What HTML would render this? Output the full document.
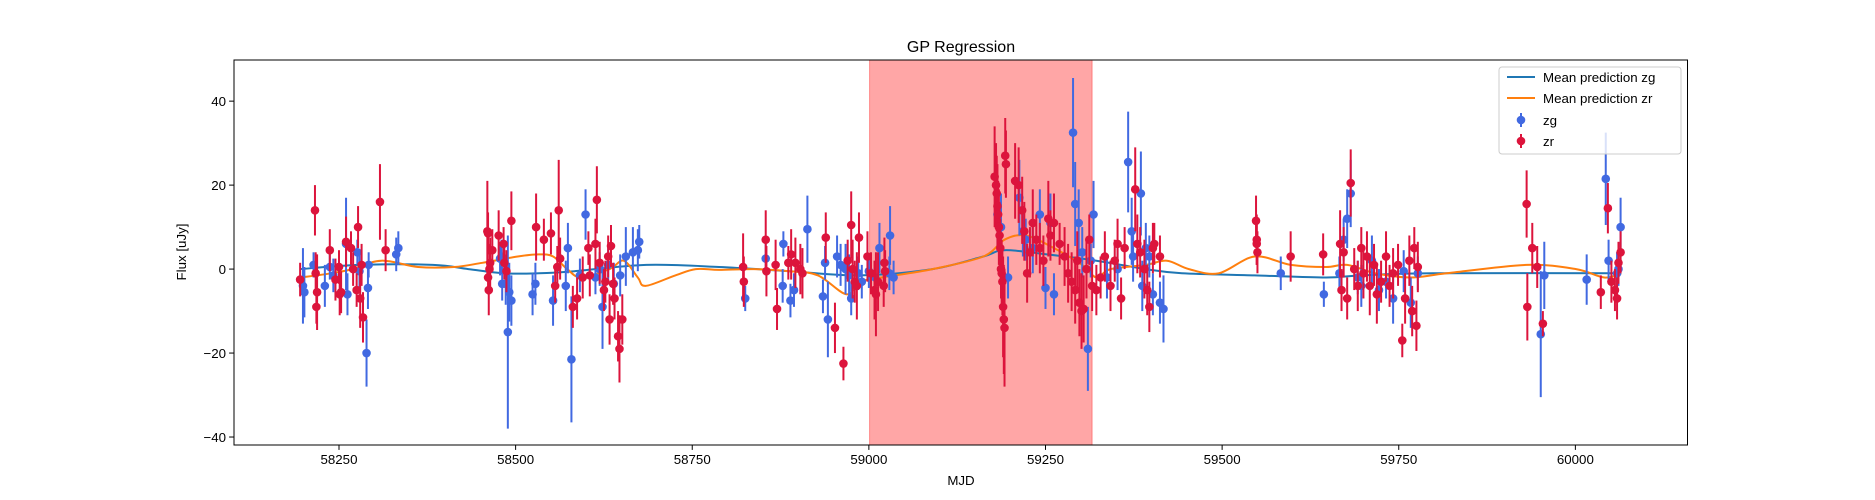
<!DOCTYPE html>
<html><head><meta charset="utf-8">
<style>
html,body{margin:0;padding:0;background:#fff;}
svg{display:block;font-family:"Liberation Sans","DejaVu Sans",sans-serif;}
</style></head>
<body>
<svg id="chart" width="1875" height="500" viewBox="0 0 1875 500" style="position:absolute;left:0;top:0"></svg>
<script>
// ---- data ----
const xTicks = [58250, 58500, 58750, 59000, 59250, 59500, 59750, 60000];
const yTicks = [-40, -20, 0, 20, 40];
const spanRange = [59001, 59316];
const zgCurveMjd = [58195,58279,58383,58433,58483,58533,58583,58685,58788,58888,58988,59090,59162,59192,59252,59322,59392,59443,59546,59647,59697,59798,60065];
const zgCurveFlux = [0,1,1,0,-1,-1,-0.5,1,0.5,-0.5,-1.5,0,3,4.5,3.5,2,0,-1,-1.5,-2,-1.5,-1,-1];
const zrCurveMjd = [58195,58239,58269,58310,58362,58413,58453,58503,58533,58553,58573,58593,58633,58653,58673,58684,58726,58755,58788,58837,58888,58928,58968,58988,59018,59090,59162,59192,59222,59262,59302,59322,59342,59392,59422,59453,59495,59546,59597,59647,59677,59717,59767,59818,59931,60001,60041,60065];
const zrCurveFlux = [-2,-1,0,2,0.5,0.5,1.5,3,3.5,3,0,-2,0,2,-2,-4,-1.5,0,-0.2,0,-0.5,-1.5,-6,-3,-2,0,3,7,8,5,1,-2,0,1,2,0,-1,3,1,0.5,1,-1,-2,-1,1,0,-2,-1];
// [mjd, flux, err]
const zgObs = [[58199,-4,9],[58201,-5.5,6],[58214,1,3],[58230,-4,5],[58237,0.5,3],[58242,-1.5,4],[58260,6,11],[58262,-6,5],[58276,4,3],[58279,-0.5,4],[58289,-20,8],[58291,-4.5,5],[58292,1,3],[58331,3.5,4],[58334,5,4],
[58478,2.5,4],[58480,3,4],[58481,-3.5,4],[58486,-3.5,5],[58489,-15,23],[58491,-5.5,7],[58494,-7.5,6],[58524,-6,5],[58528,-3.5,5],[58553,-7.5,6],[58571,-4,6],[58574,5,6],[58579,-21.5,15],[58591,-1.5,4],[58599,13,6],[58613,-2,4],[58619,0,4],[58623,-9,10],[58631,1,4],[58639,-3.5,5],[58648,-1.5,5],[58656,3,7],[58666,4,6],[58673,4.5,5],[58675,6.5,4],
[58825,-7,3],[58854,2.5,4],[58878,-4,4],[58879,6,3],[58889,-7.5,4],[58894,-5,4],[58913,9.5,8],[58935,-6.5,4],[58938,1.5,4],[58942,-12,9],[58955,3,5],[58960,1,5],[58967,0,6],[58972,-1.5,5],[58975,-7,4],[58985,-1,4],[58990,-3,4],[59000,-0.5,4],[59009,-2,4],[59015,5,6],[59030,8,7],[59029,-1,4],[59035,-2,4],
[59182,13,8],[59187,10,8],[59197,-2,5],[59213,17,9],[59218,9,6],[59222,7,5],[59232,5,6],[59242,13,6],[59250,-4.5,5],[59257,11,7],[59262,-6,5],[59289,32.5,13],[59292,15.5,10],[59297,11,8],[59302,4,6],[59310,-19,10],[59314,2,4],[59318,13,8],
[59337,-2,5],[59352,0,5],[59367,25.5,12],[59372,9,8],[59374,3,6],[59385,18,10],[59387,-4,6],[59392,5,6],[59402,-6,5],[59412,-8,5],[59417,-9.5,8],[59397,3,5],
[59583,-1,4],[59644,-6,3],[59666,-1,4],[59672,7,5],[59677,12,7],[59682,18,8],[59692,-2,4],[59697,-4,5],[59712,2,6],[59722,-5,5],[59732,-3,4],[59742,-7,6],[59757,-0.5,5],[59767,-8,6],[59777,-1,4],[59951,-15.5,15],[59956,-1.5,8],[60016,-2.5,6],[60043,21.5,11],[60047,2,5],[60059,-1,5],[60061,0,4],[60064,10,7]];
const zrObs = [[58195,-2.5,4],[58216,14,6],[58217,-1,5],[58218,-9,4],[58219,-5.5,9],[58237,4.5,5],[58245,-2.5,5],[58250,0.5,4],[58251,-6,5],[58253,-5.5,5],[58260,6.5,6],[58267,5,4],[58270,0,4],[58275,-5,4],[58277,10,5],[58280,-7,7],[58282,1,5],[58284,-11.5,6],[58308,16,9],[58316,4.5,5],
[58460,9,12],[58461,8.5,5],[58461,-2,4],[58462,-5,6],[58463,0,6],[58464,1.5,6],[58467,4.5,5],[58476,8,6],[58483,6,4],[58484,1.5,4],[58487,-0.5,5],[58494,11.5,7],[58529,10,8],[58540,7,5],[58550,8.5,5],[58556,-4,4],[58559,0.5,5],[58561,14,12],[58563,2.5,5],[58581,-9,5],[58587,-7,5],[58595,-2,5],[58603,5,4],[58605,-1.5,5],[58613,6,6],[58615,16.5,8],[58619,1.5,5],[58625,-5,5],[58627,-3,5],[58631,3,5],[58633,-12,6],[58635,5.5,5],[58638,-3.5,5],[58640,-7,5],[58645,-16,6],[58647,-19,8],[58651,-12,6],
[58822,0.5,8],[58823,-3,6],[58854,7,7],[58855,-0.5,6],[58868,1,6],[58870,-9.5,5],[58886,1.5,4],[58890,3.5,6],[58896,1.5,6],[58903,0,6],[58906,-1,6],[58939,7.5,6],[58952,-14,6],[58964,-22.5,4],[58970,2,5],[58975,10.5,8],[58977,0,7],[58980,-3,5],[58983,-4,8],[58986,7.5,6],[58998,3,6],[59003,-1,5],[59008,-5,7],[59010,-6,10],[59013,-3,7],[59021,-4,5],[59022,1.5,6],[59023,-0.5,5],
[59178,22,12],[59180,20,10],[59181,18,9],[59182,15,10],[59183,13,8],[59184,10,9],[59185,8,8],[59186,5,7],[59187,0,7],[59188,-1,8],[59189,-3,8],[59190,-9,12],[59191,-12,13],[59192,-14,14],[59193,27,9],[59194,25,8],[59207,21,9],[59212,20,9],[59217,14,8],[59220,9,7],[59224,-1,7],[59228,4,6],[59232,11,8],[59237,7,6],[59242,5,6],[59247,2,6],[59254,12,9],[59257,8,6],[59262,11,7],[59270,6,5],[59277,3,7],[59282,-1,7],[59287,-3,7],[59292,-5,8],[59295,2,7],[59298,-8,8],[59301,-10,9],[59304,-9.5,8],[59308,0,7],[59312,7,6],[59316,-4,6],[59322,-5,6],[59328,-2,5],[59334,3,6],[59342,-4,6],[59348,2,5],[59352,6,6],[59357,-7,5],[59362,5,5],[59377,19,10],[59380,6,7],[59384,4,6],[59390,0,7],[59394,-5,6],[59397,-9,6],[59402,5,6],[59404,6,5],[59412,3,5],
[59548,11.5,6],[59549,7,6],[59549,6,5],[59550,4,5],[59597,3,6],[59643,3.5,5],[59667,6,8],[59669,-5,5],[59672,4,6],[59677,-7,5],[59682,20.5,8],[59687,0,5],[59692,-4,6],[59697,5,5],[59700,-1,6],[59705,3,6],[59709,-4,7],[59715,1,5],[59719,-6,7],[59725,-3,5],[59732,3,6],[59737,-4,5],[59742,-1,6],[59749,1,5],[59755,-17,4],[59759,-7,6],[59765,2,6],[59769,-10,6],[59772,5,5],[59775,-13.5,6],[59777,0.5,6],[59931,15.5,8],[59932,-9,8],[59939,5,6],[59946,0.5,5],[59954,-13,3],[60036,-5.5,4],[60046,14.5,6],[60051,-3,5],[60056,-5,5],[60059,-7,5],[60061,1.5,5],[60064,4,5]];

// ---- layout ----
const L=234, R=1687.5, T=60, B=445;
const xMin=58101.4, xMax=60158.7, yMin=-41.9, yMax=49.8;
const sx = v => L + (v - xMin) / (xMax - xMin) * (R - L);
const sy = v => B - (v - yMin) / (yMax - yMin) * (B - T);
const NS = "http://www.w3.org/2000/svg";
const svg = document.getElementById('chart');
function mk(tag, attrs, parent){ const e=document.createElementNS(NS,tag); for(const k in attrs) e.setAttribute(k,attrs[k]); (parent||svg).appendChild(e); return e; }

const clip = mk('clipPath',{id:'plotclip'}); mk('rect',{x:L,y:T,width:R-L,height:B-T},clip);
const plot = mk('g',{'clip-path':'url(#plotclip)'});



const span = mk('rect',{x:sx(spanRange[0]),y:T,width:sx(spanRange[1])-sx(spanRange[0]),height:B-T,fill:'#ff0000','fill-opacity':0.35,stroke:'#ff0000','stroke-opacity':0.35},plot);



function curve(xs, ys, color, name){
  const P = xs.map((x,i)=>[sx(x), sy(ys[i])]);
  let d = 'M'+P[0][0].toFixed(1)+','+P[0][1].toFixed(1);
  for(let i=0;i<P.length-1;i++){
    const p0=P[Math.max(0,i-1)], p1=P[i], p2=P[i+1], p3=P[Math.min(P.length-1,i+2)];
    const c1=[p1[0]+(p2[0]-p0[0])/6, p1[1]+(p2[1]-p0[1])/6];
    const c2=[p2[0]-(p3[0]-p1[0])/6, p2[1]-(p3[1]-p1[1])/6];
    d += 'C'+c1[0].toFixed(1)+','+c1[1].toFixed(1)+' '+c2[0].toFixed(1)+','+c2[1].toFixed(1)+' '+p2[0].toFixed(1)+','+p2[1].toFixed(1);
  }
  const e = mk('path',{d:d,fill:'none',stroke:color,'stroke-width':2,'stroke-linejoin':'round'},plot);
  
  
}
curve(zgCurveMjd, zgCurveFlux, '#1f77b4', 'mean-prediction-zg-line');
curve(zrCurveMjd, zrCurveFlux, '#ff7f0e', 'mean-prediction-zr-line');

function points(obs, color, name){
  const g = mk('g',{},plot);
  
  
  obs.forEach(o=>{
    mk('line',{x1:sx(o[0]),x2:sx(o[0]),y1:sy(o[1]-o[2]),y2:sy(o[1]+o[2]),stroke:color,'stroke-width':2},g);
  });
  obs.forEach(o=>{
    const c = mk('circle',{cx:sx(o[0]),cy:sy(o[1]),r:4.3,fill:color},g);
    
    
  });
}
points(zgObs, '#4169e1', 'zg-series');
points(zrObs, '#dc143c', 'zr-series');

const frame = mk('rect',{x:L,y:T,width:R-L,height:B-T,fill:'none',stroke:'#000','stroke-width':1});



xTicks.forEach(t=>{
  const x=sx(t);
  mk('line',{x1:x,x2:x,y1:B,y2:B+4.9,stroke:'#000','stroke-width':1});
  const tx=mk('text',{x:x,y:B+19,'text-anchor':'middle','font-size':13.3,fill:'#000'}); tx.textContent=t;
  
  
});
yTicks.forEach(t=>{
  const y=sy(t);
  mk('line',{x1:L-4.9,x2:L,y1:y,y2:y,stroke:'#000','stroke-width':1});
  const tx=mk('text',{x:L-8,y:y+4.8,'text-anchor':'end','font-size':13.3,fill:'#000'}); tx.textContent=(t<0?'\u2212'+(-t):t);
  
  
});
</script>
<svg width="1875" height="500" style="position:absolute;left:0;top:0;pointer-events:none">
<text x="961" y="52" text-anchor="middle" font-size="16" fill="#000" font-family="Liberation Sans, sans-serif">GP Regression</text>
<text x="961" y="485" text-anchor="middle" font-size="13.3" fill="#000" font-family="Liberation Sans, sans-serif">MJD</text>
<text x="0" y="0" transform="translate(186,252) rotate(-90)" text-anchor="middle" font-size="13.3" fill="#000" font-family="Liberation Sans, sans-serif">Flux [uJy]</text>
<g font-family="Liberation Sans, sans-serif" font-size="13.3">
<rect x="1499" y="67" width="182" height="87" rx="3" fill="#fff" fill-opacity="0.8" stroke="#ccc"/>
<g><line x1="1507" x2="1535" y1="77" y2="77" stroke="#1f77b4" stroke-width="2"/><text x="1543" y="82" fill="#000">Mean prediction zg</text></g>
<g><line x1="1507" x2="1535" y1="98" y2="98" stroke="#ff7f0e" stroke-width="2"/><text x="1543" y="103" fill="#000">Mean prediction zr</text></g>
<g><line x1="1521" x2="1521" y1="113" y2="127" stroke="#4169e1" stroke-width="2"/><circle cx="1521" cy="120" r="4.3" fill="#4169e1"/><text x="1543" y="125" fill="#000">zg</text></g>
<g><line x1="1521" x2="1521" y1="134" y2="148" stroke="#dc143c" stroke-width="2"/><circle cx="1521" cy="141" r="4.3" fill="#dc143c"/><text x="1543" y="146" fill="#000">zr</text></g>
</g>
</svg>
</body></html>
